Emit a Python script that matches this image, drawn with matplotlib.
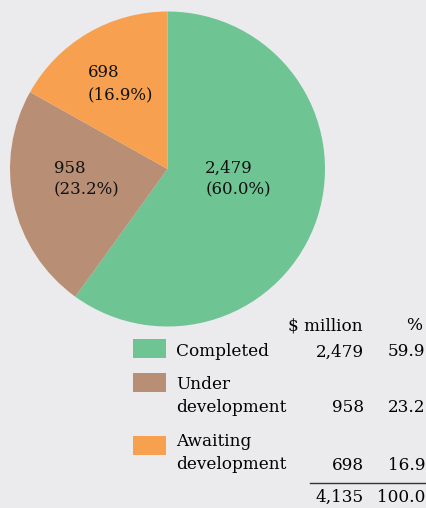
import matplotlib.pyplot as plt
from matplotlib.patches import Rectangle

# pie data
categories = ['Completed', 'Under\ndevelopment', 'Awaiting\ndevelopment']
values = [2479, 958, 698]
pie_pcts = ['60.0%', '23.2%', '16.9%']
table_pcts = ['59.9', '23.2', '16.9']
total_label = '4,135'
total_pct = '100.0'
colors = ['#6fc493', '#b88f74', '#f7a150']
bg = '#ebebed'

plt.rcParams['font.family'] = ['DejaVu Serif']

fig = plt.figure(figsize=(4.26, 5.08), dpi=100, facecolor=bg)

# pie axes, placed in pixel terms (center ~167,169 r ~157)
W, H = 426, 508
cx, cy, r = 167.5, 169, 157.5
ax = fig.add_axes([(cx - r) / W, 1 - (cy + r) / H, 2 * r / W, 2 * r / H])
ax.set_facecolor(bg)
wedges, _ = ax.pie(values, colors=colors, startangle=90, counterclock=False,
                   wedgeprops=dict(linewidth=0))
ax.set_xlim(-1, 1)
ax.set_ylim(-1, 1)
ax.set_aspect('equal')

# slice labels (left aligned, two lines)
label_pos = [(0.24, -0.065), (-0.72, -0.065), (-0.505, 0.54)]
for v, p, (lx, ly) in zip(values, pie_pcts, label_pos):
    ax.text(lx, ly, f'{v:,}\n({p})', ha='left', va='center', fontsize=12,
            linespacing=1.4, color='#111111')

# legend table in figure pixel coords
tx = fig.add_axes([0, 0, 1, 1], facecolor='none')
tx.set_xlim(0, W)
tx.set_ylim(H, 0)
tx.axis('off')
fs = 12.2
tx.text(363, 326, '$ million', ha='right', va='center', fontsize=fs)
tx.text(422, 326, '%', ha='right', va='center', fontsize=fs)

sq_y = [339, 373, 436]
name_y = [352, 396, 453]
val_y = [352, 408, 465]
for i, cat in enumerate(categories):
    tx.add_patch(Rectangle((133, sq_y[i]), 33, 19, color=colors[i], lw=0))
    tx.text(176, name_y[i], cat, ha='left', va='center', fontsize=fs,
            linespacing=1.5)
    tx.text(364, val_y[i], f'{values[i]:,}', ha='right', va='center', fontsize=fs)
    tx.text(425, val_y[i], table_pcts[i], ha='right', va='center', fontsize=fs)

tx.plot([310, 426], [483, 483], color='#333333', lw=1)
tx.text(364, 497, total_label, ha='right', va='center', fontsize=fs)
tx.text(425, 497, total_pct, ha='right', va='center', fontsize=fs)

fig.savefig('out.png', dpi=100, facecolor=bg)
